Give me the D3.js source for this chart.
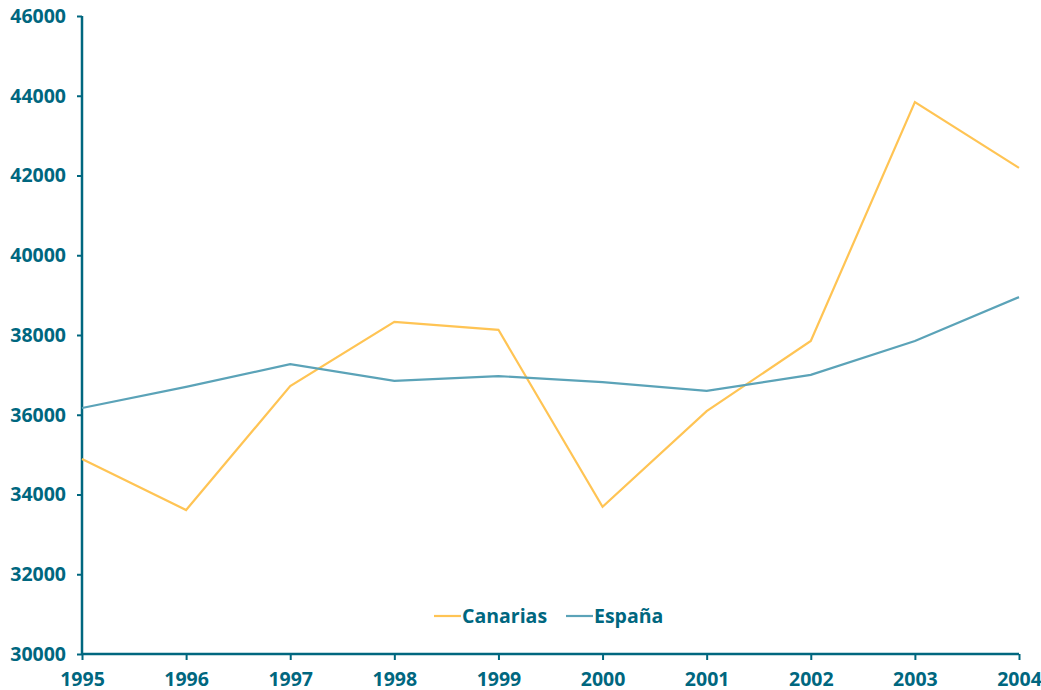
<!doctype html>
<html lang="es">
<head>
<meta charset="UTF-8">
<title>Canarias / España</title>
<style>
  body { margin: 0; background: #fff; }
  svg text { font-family: "Open Sans", "Noto Sans", sans-serif; font-weight: 700; fill: #00677f; }
</style>
</head>
<body>
<svg width="1041" height="690"></svg>
<script src="https://cdn.jsdelivr.net/npm/d3@7"></script>
<script>
const years = [1995, 1996, 1997, 1998, 1999, 2000, 2001, 2002, 2003, 2004]
const canarias = [34890, 33610, 36720, 38330, 38130, 33690, 36090, 37850, 43840, 42190]
const espana = [36170, 36700, 37270, 36850, 36970, 36820, 36600, 37000, 37850, 38950]
const yTicks = [30000, 32000, 34000, 36000, 38000, 40000, 42000, 44000, 46000]

const axisColor = '#00677f'
const series = [
  {name: 'Canarias', values: canarias, color: '#ffc454'},
  {name: 'España', values: espana, color: '#5ba3b8'}
]

const svg = d3.select('svg')
const x = d3.scaleLinear().domain([1995, 2004]).range([82, 1019])
const y = d3.scaleLinear().domain([30000, 46000]).range([654, 16])

// axes
const gy = svg.append('g').attr('transform', 'translate(82,0)')
  .call(d3.axisLeft(y).tickValues(yTicks).tickFormat(d3.format('d')).tickSize(5).tickPadding(11))
const gx = svg.append('g').attr('transform', 'translate(0,654)')
  .call(d3.axisBottom(x).tickValues(years).tickFormat(d3.format('d')).tickSize(6).tickPadding(12))

for (const g of [gy, gx]) {
  g.select('.domain').attr('stroke', axisColor).attr('stroke-width', 2.5)
  g.selectAll('.tick line').attr('stroke', axisColor).attr('stroke-width', 2)
  g.selectAll('.tick text').attr('font-size', 19.5).attr('fill', axisColor)
    .style('font-family', '"Open Sans", "Noto Sans", sans-serif').style('font-weight', 700)
}
gy.select('.domain').attr('d', 'M0,16V654')
gx.select('.domain').attr('d', 'M82,0H1019')

// lines
const line = d3.line().x((d, i) => x(years[i])).y(d => y(d))
svg.append('g').selectAll('path')
  .data(series)
  .join('path')
  .attr('d', d => line(d.values))
  .attr('fill', 'none')
  .attr('stroke', d => d.color)
  .attr('stroke-width', 2.2)

// legend
const legend = svg.append('g').attr('transform', 'translate(434,616)')
const items = legend.selectAll('g').data(series).join('g')
  .attr('transform', (d, i) => `translate(${i * 132},0)`)
items.append('line').attr('x1', 0).attr('x2', 27).attr('y1', 0).attr('y2', 0)
  .attr('stroke', d => d.color).attr('stroke-width', 2.2)
items.append('text').attr('x', 28).attr('dy', '0.35em').attr('font-size', 19.5).text(d => d.name)
</script>
</body>
</html>
